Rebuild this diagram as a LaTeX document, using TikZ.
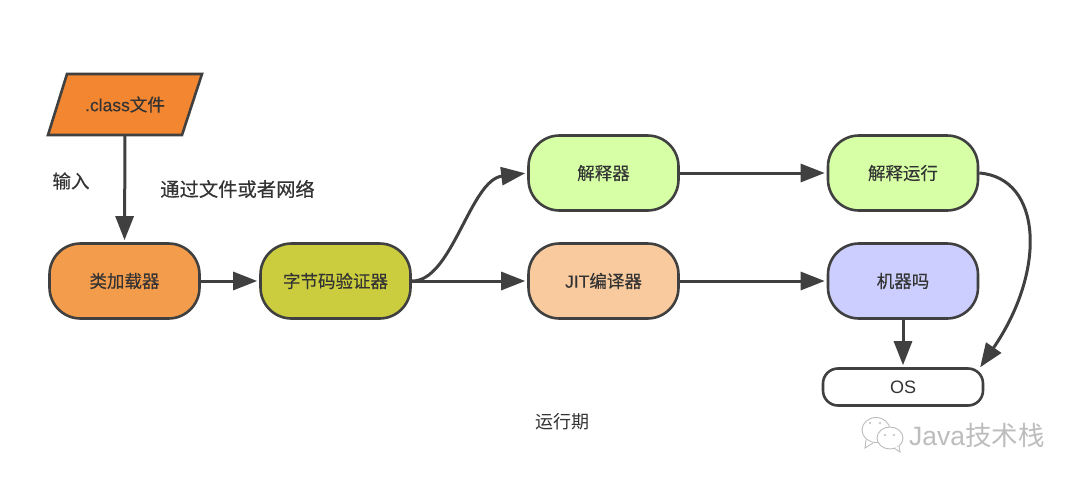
\documentclass[tikz,border=0pt]{standalone}
\usepackage{fontspec}
\setmainfont{Liberation Sans}
\newfontfamily\cjk[FakeBold=0.25]{Noto Sans CJK SC}
\newfontfamily\cjkplain{Noto Sans CJK SC}
\newfontfamily\latb[FakeBold=0.15]{Liberation Sans}
\usetikzlibrary{arrows.meta}
\definecolor{ln}{HTML}{404040}
\definecolor{tx}{HTML}{333333}
\definecolor{cOrange}{HTML}{F38630}
\definecolor{cLoad}{HTML}{F39C4B}
\definecolor{cVerify}{HTML}{CBCC3E}
\definecolor{cGreen}{HTML}{D6FFA6}
\definecolor{cJit}{HTML}{F8CA9D}
\definecolor{cBlue}{HTML}{CBCEFE}
\definecolor{wm}{HTML}{BDBDBD}
\tikzset{
 x=1pt,y=-1pt,
 box/.style={draw=ln,line width=2.6pt,rounded corners=31pt,minimum width=150pt,minimum height=75pt,text=tx,font=\cjk\fontsize{17.5}{20}\selectfont,inner sep=0pt},
 lbl/.style={text=tx,inner sep=0pt,font=\cjk\fontsize{18}{21}\selectfont},
 conn/.style={draw=ln,line width=3pt,-{Triangle[length=24pt,width=18pt]},shorten >=2pt},
 bubble/.style={draw=wm,line width=0.9pt,fill=white}
}
\begin{document}
\begin{tikzpicture}
\useasboundingbox (0,0) rectangle (1080,482);
\fill[white] (0,0) rectangle (1080,482);
\draw[draw=ln,line width=2.6pt,line join=miter,fill=cOrange] (48,135) -- (67,74) -- (202,74) -- (182,135) -- cycle;
\node[inner sep=0pt,minimum width=120pt,minimum height=61pt,text=tx,font=\cjk\fontsize{17.5}{20}\selectfont] (cls) at (125,104.5) {{\latb\fontsize{17.5}{20}\selectfont .class}文件};
\node[box,fill=cLoad] (load) at (124.5,281) {类加载器};
\node[box,fill=cVerify] (verify) at (335.5,281) {字节码验证器};
\node[box,fill=cGreen] (interp) at (603.5,173) {解释器};
\node[box,fill=cGreen] (run) at (903,173) {解释运行};
\node[box,fill=cJit] (jit) at (603.5,281) {{\latb\fontsize{17.5}{20}\selectfont JIT}编译器};
\node[box,fill=cBlue] (mach) at (903,281) {机器吗};
\node[box,fill=white,rounded corners=15pt,minimum width=160pt,minimum height=37pt,font=\fontsize{18}{21}\selectfont] (os) at (903,387) {OS};
\node[lbl,font=\cjk\fontsize{18.5}{21}\selectfont] (in) at (71,181) {输入};
\node[lbl,font=\cjk\fontsize{19.3}{22}\selectfont] (via) at (237.5,189) {通过文件或者网络};
\node[lbl,font=\cjkplain\fontsize{18}{21}\selectfont] (rt) at (562,422) {运行期};
\draw[conn] (cls.south) -- (load.north);
\draw[conn] (load) -- (verify);
\draw[conn] (verify.east) .. controls (452,282) and (470,180) .. (interp.west);
\draw[conn] (verify) -- (jit);
\draw[conn] (interp) -- (run);
\draw[conn] (jit) -- (mach);
\draw[conn] (mach) -- (os);
\coordinate (osin) at (979,369);
\draw[conn] (run.east) .. controls (1042,178) and (1047,270) .. (osin);
% watermark
\draw[bubble] (876,430) ellipse (14pt and 12.5pt);
\draw[bubble] (866,440) -- (865,448) -- (873,443);
\draw[bubble] (890,438) ellipse (13pt and 11pt);
\draw[bubble,fill=white] (894,448) -- (900,452) -- (899,446);
\foreach \p in {(870,423),(880,423),(885,435),(894,435)} \fill[wm] \p circle (1.1pt);
\node[inner sep=0pt,text=wm,font=\fontsize{26.5}{28}\selectfont,anchor=west] (wmk) at (909,435) {Java{\cjkplain 技术栈}};
\end{tikzpicture}
\end{document}
